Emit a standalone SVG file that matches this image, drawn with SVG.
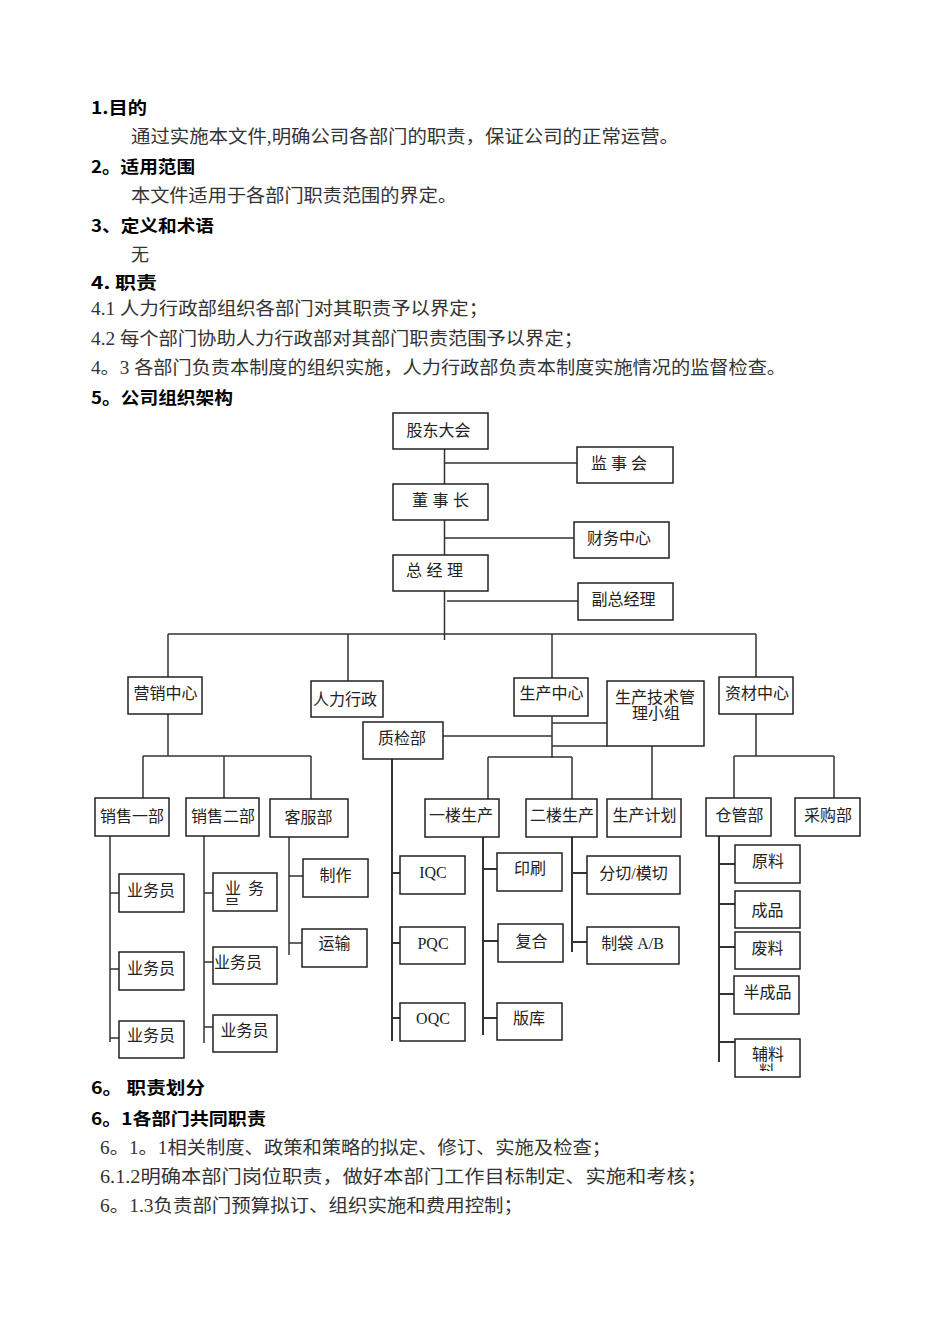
<svg xmlns="http://www.w3.org/2000/svg" width="950" height="1344" viewBox="0 0 950 1344">
<style>
.box{fill:#fff;stroke:#222;stroke-width:1.5}
.ln{stroke:#333;stroke-width:1.5;fill:none}
.lnb{stroke:#333;stroke-width:2;fill:none}
.lbl{font-family:"Liberation Serif","Noto Sans CJK SC",serif;font-size:16px;fill:#222;text-anchor:middle}
.h{font-family:"Noto Sans CJK SC",sans-serif;font-weight:bold;font-size:17px;fill:#000}
.b{font-family:"Liberation Serif","Noto Sans CJK SC",serif;font-size:18px;fill:#333}
</style>
<defs>
<clipPath id="c2a"><rect x="213" y="873" width="64" height="32"/></clipPath>
<clipPath id="cfl"><rect x="735" y="1039" width="65" height="32"/></clipPath>
</defs>
<g id="text">
<text class="h" x="91" y="114" textLength="56" lengthAdjust="spacingAndGlyphs">1.目的</text>
<text class="b" x="131" y="143" textLength="548" lengthAdjust="spacingAndGlyphs">通过实施本文件,明确公司各部门的职责，保证公司的正常运营。</text>
<text class="h" x="91" y="173" textLength="104" lengthAdjust="spacingAndGlyphs">2。适用范围</text>
<text class="b" x="131" y="202" textLength="326" lengthAdjust="spacingAndGlyphs">本文件适用于各部门职责范围的界定。</text>
<text class="h" x="91" y="232" textLength="123" lengthAdjust="spacingAndGlyphs">3、定义和术语</text>
<text class="b" x="131" y="261">无</text>
<text class="h" x="91" y="289" textLength="66" lengthAdjust="spacingAndGlyphs">4. 职责</text>
<text class="b" x="91" y="315" textLength="397" lengthAdjust="spacingAndGlyphs">4.1 人力行政部组织各部门对其职责予以界定；</text>
<text class="b" x="91" y="345" textLength="492" lengthAdjust="spacingAndGlyphs">4.2 每个部门协助人力行政部对其部门职责范围予以界定；</text>
<text class="b" x="91" y="374" textLength="695" lengthAdjust="spacingAndGlyphs">4。3 各部门负责本制度的组织实施，人力行政部负责本制度实施情况的监督检查。</text>
<text class="h" x="91" y="404" textLength="142" lengthAdjust="spacingAndGlyphs">5。公司组织架构</text>
<text class="h" x="91" y="1094" textLength="114" lengthAdjust="spacingAndGlyphs">6。 职责划分</text>
<text class="h" x="91" y="1125" textLength="175" lengthAdjust="spacingAndGlyphs">6。1各部门共同职责</text>
<text class="b" x="100" y="1154" textLength="511" lengthAdjust="spacingAndGlyphs">6。1。1相关制度、政策和策略的拟定、修订、实施及检查；</text>
<text class="b" x="100" y="1183" textLength="607" lengthAdjust="spacingAndGlyphs">6.1.2明确本部门岗位职责，做好本部门工作目标制定、实施和考核；</text>
<text class="b" x="100" y="1212" textLength="423" lengthAdjust="spacingAndGlyphs">6。1.3负责部门预算拟订、组织实施和费用控制；</text>
</g>
<g id="connectors">
<path class="ln" d="M444.5 449V484M445 463H577M444.5 520V555M445 538H574M444.5 591V640M447 601H578M168 634H756M168 634V677M348 634V681M552 634V678M756 634V677"/>
<path class="ln" d="M168 714V756M143 756H311M143 756V798M224 756V798M311 756V799"/>
<path class="ln" d="M552 716V758M552 723H607M443 736H552M552 746H607M488 757H572M488 757V799M572 757V799M652 746V799"/>
<path class="ln" d="M756 714V756M734 756H834M734 756V798M834 756V798"/>
<path class="ln" d="M110 836V1042M110 893H119M110 969H119M110 1038H119"/>
<path class="ln" d="M204 836V1043M204 893H213M204 962H213M204 1027H213"/>
<path class="ln" d="M289 837V955M289 876H303M289 943H302"/>
<path class="lnb" d="M392 759V1041M392 873H400M392 943H400M392 1018H400"/>
<path class="lnb" d="M483 837V1035M483 869H497M483 941H498M483 1018H497"/>
<path class="lnb" d="M572 837V952M572 873H587M572 942H587"/>
<path class="lnb" d="M719 836V1062M719 864H735M719 904H735M719 947H735M719 994H734M719 1042H735"/>
</g>
<g id="n-gudong"><rect class="box" x="393" y="413" width="95" height="36"/><text class="lbl" x="438.5" y="436">股东大会</text></g>
<g id="n-jianshi"><rect class="box" x="577" y="447" width="96" height="36"/><text class="lbl" x="619" y="469" textLength="56" lengthAdjust="spacing">监 事 会</text></g>
<g id="n-dongshi"><rect class="box" x="393" y="484" width="95" height="36"/><text class="lbl" x="440.5" y="506" textLength="57" lengthAdjust="spacing">董 事 长</text></g>
<g id="n-caiwu"><rect class="box" x="574" y="522" width="95" height="36"/><text class="lbl" x="619" y="544">财务中心</text></g>
<g id="n-zongjingli"><rect class="box" x="393" y="555" width="95" height="36"/><text class="lbl" x="434.5" y="576" textLength="57" lengthAdjust="spacing">总 经 理</text></g>
<g id="n-fuzong"><rect class="box" x="578" y="583" width="95" height="37"/><text class="lbl" x="623.5" y="605">副总经理</text></g>
<g id="n-yingxiao"><rect class="box" x="128" y="677" width="74" height="37"/><text class="lbl" x="165.5" y="699">营销中心</text></g>
<g id="n-renli"><rect class="box" x="311" y="681" width="72" height="36"/><text class="lbl" x="345" y="705">人力行政</text></g>
<g id="n-zhijian"><rect class="box" x="363" y="722" width="80" height="37"/><text class="lbl" x="402" y="744">质检部</text></g>
<g id="n-shengchan"><rect class="box" x="514" y="678" width="74" height="38"/><text class="lbl" x="551.5" y="699">生产中心</text></g>
<g id="n-jishu"><rect class="box" x="607" y="681" width="97" height="65"/><text class="lbl" x="655" y="703">生产技术管</text><text class="lbl" x="656" y="719">理小组</text></g>
<g id="n-zicai"><rect class="box" x="719" y="677" width="74" height="37"/><text class="lbl" x="757" y="699">资材中心</text></g>
<g id="n-xs1"><rect class="box" x="95" y="798" width="74" height="38"/><text class="lbl" x="132" y="822">销售一部</text></g>
<g id="n-xs2"><rect class="box" x="186" y="798" width="73" height="38"/><text class="lbl" x="223" y="822">销售二部</text></g>
<g id="n-kefu"><rect class="box" x="270" y="799" width="78" height="38"/><text class="lbl" x="308.5" y="823">客服部</text></g>
<g id="n-yilou"><rect class="box" x="425" y="799" width="74" height="38"/><text class="lbl" x="461" y="821">一楼生产</text></g>
<g id="n-erlou"><rect class="box" x="526" y="799" width="71" height="38"/><text class="lbl" x="562" y="821">二楼生产</text></g>
<g id="n-jihua"><rect class="box" x="607" y="799" width="74" height="38"/><text class="lbl" x="644.5" y="821">生产计划</text></g>
<g id="n-cangguan"><rect class="box" x="706" y="798" width="65" height="38"/><text class="lbl" x="739.5" y="821">仓管部</text></g>
<g id="n-caigou"><rect class="box" x="795" y="798" width="65" height="38"/><text class="lbl" x="828" y="821">采购部</text></g>
<g id="n-yw1a"><rect class="box" x="119" y="874" width="65" height="38"/><text class="lbl" x="151" y="896">业务员</text></g>
<g id="n-yw1b"><rect class="box" x="119" y="952" width="65" height="38"/><text class="lbl" x="151" y="974">业务员</text></g>
<g id="n-yw1c"><rect class="box" x="119" y="1021" width="65" height="37"/><text class="lbl" x="151" y="1041">业务员</text></g>
<g id="n-yw2a"><rect class="box" x="213" y="873" width="64" height="38"/><text class="lbl" x="244.5" y="894" textLength="39" lengthAdjust="spacing">业 务</text><text class="lbl" x="232" y="911" clip-path="url(#c2a)">员</text></g>
<g id="n-yw2b"><rect class="box" x="213" y="947" width="64" height="37"/><text class="lbl" x="238" y="968">业务员</text></g>
<g id="n-yw2c"><rect class="box" x="213" y="1015" width="64" height="37"/><text class="lbl" x="244.5" y="1036">业务员</text></g>
<g id="n-zhizuo"><rect class="box" x="303" y="859" width="65" height="38"/><text class="lbl" x="335.5" y="881">制作</text></g>
<g id="n-yunshu"><rect class="box" x="302" y="929" width="65" height="38"/><text class="lbl" x="334.5" y="949">运输</text></g>
<g id="n-iqc"><rect class="box" x="400" y="856" width="65" height="38"/><text class="lbl" x="433" y="878">IQC</text></g>
<g id="n-pqc"><rect class="box" x="400" y="927" width="65" height="37"/><text class="lbl" x="433" y="949">PQC</text></g>
<g id="n-oqc"><rect class="box" x="400" y="1003" width="65" height="38"/><text class="lbl" x="433" y="1024">OQC</text></g>
<g id="n-yinshua"><rect class="box" x="497" y="853" width="65" height="38"/><text class="lbl" x="530" y="874">印刷</text></g>
<g id="n-fuhe"><rect class="box" x="498" y="924" width="65" height="38"/><text class="lbl" x="531.5" y="947">复合</text></g>
<g id="n-banku"><rect class="box" x="497" y="1003" width="65" height="37"/><text class="lbl" x="529" y="1024">版库</text></g>
<g id="n-fenqie"><rect class="box" x="587" y="856" width="93" height="38"/><text class="lbl" x="633.5" y="879">分切/模切</text></g>
<g id="n-zhidai"><rect class="box" x="587" y="927" width="92" height="37"/><text class="lbl" x="632.5" y="949">制袋 A/B</text></g>
<g id="n-yuanliao"><rect class="box" x="735" y="845" width="65" height="38"/><text class="lbl" x="768" y="867">原料</text></g>
<g id="n-chengpin"><rect class="box" x="735" y="891" width="65" height="37"/><text class="lbl" x="767.5" y="916">成品</text></g>
<g id="n-feiliao"><rect class="box" x="735" y="932" width="65" height="37"/><text class="lbl" x="767.5" y="954">废料</text></g>
<g id="n-banchengpin"><rect class="box" x="734" y="976" width="65" height="38"/><text class="lbl" x="767.5" y="998">半成品</text></g>
<g id="n-fuliao"><rect class="box" x="735" y="1039" width="65" height="38"/><text class="lbl" x="768" y="1060">辅料</text><text class="lbl" x="767" y="1077" clip-path="url(#cfl)">料</text></g>
</svg>
